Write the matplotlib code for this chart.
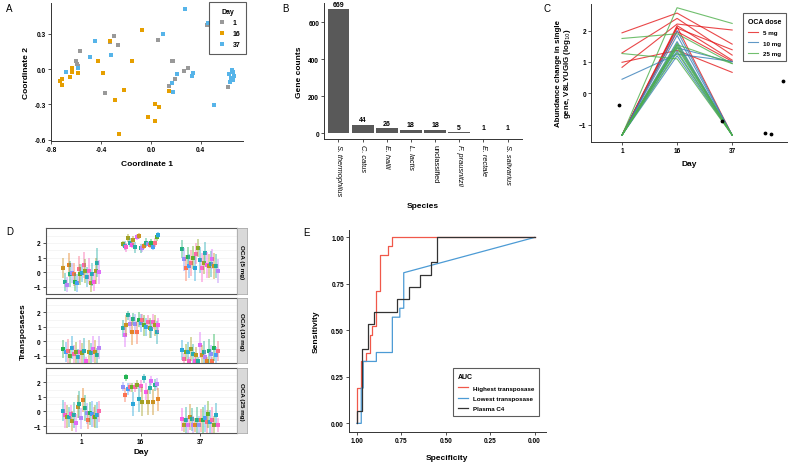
import matplotlib
matplotlib.use("Agg")
import matplotlib.pyplot as plt
from matplotlib.ticker import FormatStrFormatter
import numpy as np
import seaborn as sns

plt.rcParams['font.family'] = ['Liberation Sans', 'DejaVu Sans']
plt.rcParams['font.size'] = 5

# ---- panel A: MDS coordinates by day
a_day1_x = [-0.293, -0.331, -0.267, -0.565, -0.603, -0.597, -0.589, -0.365, 0.053, 0.165,
            0.176, 0.269, 0.296, 0.189, 0.147, 0.448, 0.619]
a_day1_y = [0.285, 0.228, 0.206, 0.155, 0.065, 0.042, 0.025, -0.200, 0.251, 0.073,
            0.070, -0.017, 0.006, -0.085, -0.144, 0.375, -0.152]
a_day16_x = [-0.069, -0.325, -0.427, -0.149, -0.381, -0.637, -0.632, -0.653, -0.584, -0.717,
             -0.731, -0.712, -0.216, -0.285, -0.253, 0.029, 0.061, -0.027, 0.029, 0.141]
a_day16_y = [0.332, 0.242, 0.070, 0.073, -0.031, 0.011, -0.028, -0.070, -0.034, -0.087,
             -0.099, -0.132, -0.175, -0.262, -0.549, -0.293, -0.321, -0.406, -0.442, -0.189]
a_day37_x = [0.277, 0.459, 0.096, -0.451, -0.320, -0.491, -0.587, -0.685, 0.213, 0.336,
             0.331, 0.171, 0.173, 0.504, 0.653, 0.656, 0.627, 0.664, 0.645, 0.637, 0.656]
a_day37_y = [0.510, 0.389, 0.301, 0.242, 0.124, 0.101, 0.011, -0.028, -0.039, -0.031,
             -0.059, -0.115, -0.197, -0.301, -0.005, -0.025, -0.042, -0.059, -0.073, -0.110, -0.090]

# ---- panel B: gene counts per species
species = ["S. thermophilus", "C. catus", "E. hallii", "L. lactis", "unclassified",
           "F. prausnitzii", "E. rectale", "S. salivarius"]
gene_counts = [669, 44, 26, 18, 18, 5, 1, 1]

# ---- panel C: per-subject abundance change (day 1, 16, 37)
days = ["1", "16", "37"]
c_5mg = [[1.93, 2.56, 1.57], [1.29, 2.39, 1.22], [0.99, 1.37, 0.67], [0.83, 2.21, 2.02],
         [-1.33, 2.16, 1.06], [-1.33, 2.08, 1.39], [-1.33, 1.97, 1.02], [-1.33, 2.12, -1.33]]
c_10mg = [[0.45, 1.25, 1.02], [-1.33, 1.85, -1.33], [-1.33, 1.55, -1.33], [-1.33, 1.35, -1.33],
          [-1.33, 1.20, -1.33], [-1.33, 1.45, 1.00], [-1.33, 2.00, -1.33], [-1.33, 1.65, -1.33]]
c_25mg = [[-1.33, 2.73, 2.23], [1.75, 1.90, 0.95], [1.27, 1.10, -1.33], [-1.33, 1.60, -1.33],
          [-1.33, 1.50, -1.33], [-1.33, 1.45, -1.33], [-1.33, 1.55, 0.95], [-1.33, 1.30, -1.33]]
c_out_x = [0.95, 2.82, 3.60, 3.70, 3.92]
c_out_y = [-0.36, -0.88, -1.25, -1.31, 0.40]

# ---- panel D: transposase estimates with intervals, per dose and day
f5_d1 = [0.30, -0.67, -0.85, 0.48, -0.12, -0.05, -0.16, -0.67, -0.74, 0.18, -0.16, -0.05,
         0.48, 0.07, -0.35, 0.07, -0.74, -0.16, -0.67, 0.07, 0.65, 0.00]
f5_d1_err = [0.7, 0.6, 0.5, 0.8, 0.9, 0.7, 0.8, 0.6, 0.6, 0.9, 0.7, 0.6, 0.9, 0.8, 0.7, 0.9,
             0.6, 0.8, 0.6, 0.9, 1.0, 0.8]
f5_d16 = [1.92, 1.80, 1.69, 2.33, 2.03, 1.87, 2.19, 1.69, 2.38, 2.49, 1.62, 1.62, 1.80, 2.03,
          1.96, 1.87, 2.00, 1.69, 2.03, 2.38, 2.54]
f5_d16_err = [0.2, 0.3, 0.3, 0.25, 0.3, 0.2, 0.3, 0.35, 0.2, 0.2, 0.3, 0.25, 0.2, 0.3, 0.2,
              0.25, 0.3, 0.2, 0.3, 0.25, 0.2]
f5_d37 = [1.57, 0.88, 0.30, 1.04, 0.42, 0.65, 0.99, 0.30, 1.27, 1.64, 0.81, 0.30, 0.65, 1.34,
          0.48, 0.42, 0.58, 0.88, 0.42, 0.42, 0.07]
f5_d37_err = [0.6, 0.8, 0.9, 0.7, 0.8, 0.9, 0.8, 0.9, 0.7, 0.6, 0.9, 1.0, 0.8, 0.7, 0.9, 0.8,
              0.9, 0.7, 0.9, 0.8, 0.8]

f10_d1 = [-0.53, -0.72, -0.65, -1.00, -0.42, -0.88, -0.76, -1.04, -0.72, -0.81, -0.65, -1.34,
          -0.72, -0.81, -0.53, -0.72, -0.95, -0.42]
f10_d1_err = [0.6, 0.7, 0.8, 0.5, 0.8, 0.6, 0.7, 0.5, 0.8, 0.7, 0.9, 0.3, 0.8, 0.7, 0.9, 0.8,
              0.5, 0.8]
f10_d16 = [0.90, 0.44, 1.09, 1.78, 1.20, 0.62, 1.55, 1.20, 0.62, 1.50, 1.27, 1.50, 1.09, 0.97,
           1.32, 0.90, 0.85, 1.36, 1.09, 0.62, 1.09]
f10_d16_err = [0.6, 0.8, 0.7, 0.3, 0.6, 0.9, 0.4, 0.7, 0.8, 0.5, 0.6, 0.4, 0.7, 0.6, 0.5, 0.7,
               0.6, 0.5, 0.7, 0.8, 0.5]
f10_d37 = [-0.60, -1.18, -0.76, -0.76, -1.34, -0.53, -0.88, -1.34, -0.95, -1.34, -0.25, -0.95,
           -0.76, -1.10, -1.34, -0.65, -0.88, -1.34, -0.42, -0.95, -0.65]
f10_d37_err = [0.7, 0.4, 0.6, 0.7, 0.3, 0.8, 0.7, 0.3, 0.6, 0.3, 0.9, 0.7, 0.8, 0.5, 0.3, 0.8,
               0.6, 0.3, 0.9, 0.6, 0.7]

f25_d1 = [0.05, -0.25, -0.37, -0.37, -0.18, -0.64, -0.25, -0.78, 0.32, 0.48, -0.48, 0.78,
          0.21, -0.14, -0.60, -0.14, -0.18, -0.37, -0.37, -0.25, 0.00]
f25_d1_err = [0.7, 0.9, 0.8, 0.7, 0.6, 0.7, 0.9, 0.6, 0.8, 0.9, 0.7, 0.8, 0.9, 0.7, 0.6, 0.8,
              0.9, 0.7, 0.8, 0.9, 0.7]
f25_d16 = [1.70, 1.13, 2.34, 1.52, 1.66, 1.66, 0.50, 1.66, 1.82, 0.83, 1.75, 0.67, 2.28, 1.36,
           0.67, 1.59, 2.11, 0.67, 1.82, 1.89, 0.83]
f25_d16_err = [0.3, 0.5, 0.25, 0.4, 0.3, 0.3, 0.8, 0.3, 0.3, 0.9, 0.4, 1.0, 0.3, 0.6, 0.9, 0.4,
               0.3, 0.9, 0.4, 0.4, 0.8]
f25_d37 = [-0.55, -0.94, -0.60, -0.94, -0.37, -0.55, -0.94, -0.94, -0.60, -0.94, -0.60, -0.60,
           -0.48, -0.71, -0.21, -0.71, -0.60, -0.94, -0.25, -0.94]
f25_d37_err = [0.8, 0.5, 0.9, 0.6, 0.9, 0.8, 0.6, 0.5, 0.9, 0.6, 0.8, 0.9, 0.9, 0.8, 0.9, 0.8,
               0.9, 0.6, 0.8, 0.5]

# ---- panel E: ROC curves (specificity, sensitivity)
roc_high_spec = [1, 1, 0.974, 0.974, 0.949, 0.949, 0.927, 0.927, 0.914, 0.914, 0.893, 0.893,
                 0.867, 0.867, 0.822, 0.822, 0.801, 0.801, 0]
roc_high_sens = [0, 0.19, 0.19, 0.333, 0.333, 0.381, 0.381, 0.476, 0.476, 0.524, 0.524, 0.714,
                 0.714, 0.905, 0.905, 0.952, 0.952, 1, 1]
roc_low_spec = [1, 0.975, 0.975, 0.964, 0.964, 0.89, 0.89, 0.80, 0.80, 0.758, 0.758, 0.736,
                0.736, 0]
roc_low_sens = [0, 0, 0.19, 0.19, 0.333, 0.333, 0.381, 0.381, 0.571, 0.571, 0.619, 0.619,
                0.81, 1]
roc_c4_spec = [1, 1, 0.968, 0.968, 0.936, 0.936, 0.903, 0.903, 0.774, 0.774, 0.708, 0.708,
               0.646, 0.646, 0.58, 0.58, 0.547, 0.547, 0]
roc_c4_sens = [0, 0.067, 0.067, 0.4, 0.4, 0.533, 0.533, 0.6, 0.6, 0.667, 0.667, 0.733, 0.733,
               0.8, 0.8, 0.867, 0.867, 1, 1]

AX = '#333333'
TITLE = 6
TICK = dict(labelsize=4.7, length=2, width=0.6, color=AX, pad=1.5)


def classic(ax):
    for s in ['top', 'right']:
        ax.spines[s].set_visible(False)
    for s in ['left', 'bottom']:
        ax.spines[s].set_color(AX)
        ax.spines[s].set_linewidth(0.7)
    ax.tick_params(**TICK)
    for lab in ax.get_xticklabels() + ax.get_yticklabels():
        lab.set_fontweight('bold')


def legend_box(leg):
    leg.get_frame().set_edgecolor(AX)
    leg.get_frame().set_linewidth(0.8)
    leg.get_frame().set_boxstyle('square', pad=0)
    leg.get_title().set_fontweight('bold')
    for t in leg.get_texts():
        t.set_fontweight('bold')


fig = plt.figure(figsize=(8, 4.64), dpi=100)

# ---------------- A
axA = fig.add_axes([0.064, 0.694, 0.240, 0.297])
kw = dict(marker='s', s=6, linewidths=0)
axA.scatter(a_day1_x, a_day1_y, color='#999999', label='1', **kw)
axA.scatter(a_day16_x, a_day16_y, color='#E69F00', label='16', **kw)
axA.scatter(a_day37_x, a_day37_y, color='#56B4E9', label='37', **kw)
axA.set_xlim(-0.80, 0.74)
axA.set_ylim(-0.61, 0.56)
axA.set_xticks([-0.8, -0.4, 0.0, 0.4])
axA.set_yticks([-0.6, -0.3, 0.0, 0.3])
axA.xaxis.set_major_formatter(FormatStrFormatter('%.1f'))
axA.yaxis.set_major_formatter(FormatStrFormatter('%.1f'))
classic(axA)
axA.set_xlabel('Coordinate 1', fontsize=TITLE, fontweight='bold', labelpad=5)
axA.set_ylabel('Coordinate 2', fontsize=TITLE, fontweight='bold', labelpad=4)
leg = axA.legend(title='Day', loc='upper right', bbox_to_anchor=(0.3075, 0.9935),
                 bbox_transform=fig.transFigure, fontsize=5, title_fontsize=5,
                 markerscale=1.0, handletextpad=0.6, borderpad=0.8, labelspacing=0.6,
                 fancybox=False, borderaxespad=0)
legend_box(leg)

# ---------------- B
axB = fig.add_axes([0.405, 0.698, 0.2475, 0.293])
xb = np.arange(len(species))
axB.bar(xb, gene_counts, width=0.9, color='#595959')
for xi, v in zip(xb, gene_counts):
    axB.text(xi, v + 8, str(v), ha='center', va='bottom', fontsize=5, fontweight='bold')
axB.set_xlim(-0.6, len(species) - 0.4)
axB.set_ylim(-33, 702)
axB.set_yticks([0, 200, 400, 600])
axB.set_xticks(xb)
axB.set_xticklabels(species, rotation=-90)
classic(axB)
for lab, name in zip(axB.get_xticklabels(), species):
    lab.set_fontweight('normal')
    lab.set_fontsize(5.3)
    lab.set_fontstyle('normal' if name == 'unclassified' else 'italic')
axB.set_xlabel('Species', fontsize=TITLE, fontweight='bold', labelpad=5)
axB.set_ylabel('Gene counts', fontsize=TITLE, fontweight='bold', labelpad=4)

# ---------------- C
axC = fig.add_axes([0.739, 0.6925, 0.245, 0.2968])
xc = np.arange(1, len(days) + 1)
for group, col, lab in [(c_5mg, '#E41A1C', '5 mg'), (c_10mg, '#377EB8', '10 mg'),
                        (c_25mg, '#4DAF4A', '25 mg')]:
    for i, row in enumerate(group):
        axC.plot(xc, row, color=col, lw=0.8, alpha=0.8, label=lab if i == 0 else None)
axC.scatter(c_out_x, c_out_y, s=3, color='black', zorder=5)
axC.set_xlim(0.44, 4.0)
axC.set_ylim(-1.54, 2.85)
axC.set_xticks(xc)
axC.set_xticklabels(days)
axC.set_yticks([-1, 0, 1, 2])
classic(axC)
axC.set_xlabel('Day', fontsize=TITLE, fontweight='bold', labelpad=5)
axC.set_ylabel('Abundance change in single\ngene, V8LYUGIG (log$_{10}$)', fontsize=5.7,
               fontweight='bold', labelpad=4, linespacing=1.0)
leg = axC.legend(title='OCA dose', loc='upper right', bbox_to_anchor=(0.9825, 0.97),
                 bbox_transform=fig.transFigure, fontsize=4.5, title_fontsize=5,
                 handlelength=1.6, borderpad=0.8, labelspacing=0.8, fancybox=False,
                 borderaxespad=0)
legend_box(leg)

# ---------------- D
facets = [("OCA (5 mg)", [f5_d1, f5_d16, f5_d37], [f5_d1_err, f5_d16_err, f5_d37_err]),
          ("OCA (10 mg)", [f10_d1, f10_d16, f10_d37], [f10_d1_err, f10_d16_err, f10_d37_err]),
          ("OCA (25 mg)", [f25_d1, f25_d16, f25_d37], [f25_d1_err, f25_d16_err, f25_d37_err])]
d_bottoms = [0.3642, 0.2149, 0.064]
pal = sns.husl_palette(22, l=0.65, s=0.95)
for k, ((title, vals, errs), bot) in enumerate(zip(facets, d_bottoms)):
    ax = fig.add_axes([0.057, bot, 0.239, 0.1415])
    for dpos, (yv, ev) in enumerate(zip(vals, errs), start=1):
        n = len(yv)
        xs = dpos + np.linspace(-0.3, 0.3, n)
        for i, (x, y, e) in enumerate(zip(xs, yv, ev)):
            col = pal[(i * 7 + dpos * 3 + k * 5) % len(pal)]
            ax.plot([x, x], [y - e, y + e], color=col, lw=1.3, alpha=0.45,
                    solid_capstyle='butt')
            ax.plot(x, y, marker='s', ms=2.6, color=col, mew=0)
    ax.set_xlim(0.4, 3.62)
    ax.set_ylim(-1.5, 3.0)
    ax.set_yticks([-1, 0, 1, 2])
    ax.set_yticks([-0.5, 0.5, 1.5, 2.5], minor=True)
    ax.grid(True, which='both', axis='y', color='#F2F2F2', lw=0.5)
    ax.set_axisbelow(True)
    ax.set_xticks([1, 2, 3])
    for s in ax.spines.values():
        s.set_color('#555555')
        s.set_linewidth(0.8)
    ax.tick_params(**TICK)
    ax.tick_params(which='minor', length=0)
    for lab in ax.get_yticklabels():
        lab.set_fontweight('bold')
    if k < 2:
        ax.set_xticklabels([])
        ax.tick_params(axis='x', length=0)
    else:
        ax.set_xticklabels(days, fontweight='bold')
        ax.set_xlabel('Day', fontsize=TITLE, fontweight='bold', labelpad=2)
    sx = fig.add_axes([0.2959, bot, 0.0125, 0.1415])
    sx.set_facecolor('#D9D9D9')
    sx.set_xticks([])
    sx.set_yticks([])
    for s in sx.spines.values():
        s.set_color('#AAAAAA')
        s.set_linewidth(0.6)
    sx.text(0.5, 0.5, title, rotation=-90, ha='center', va='center', fontsize=4.5,
            fontweight='bold', transform=sx.transAxes)
fig.text(0.029, 0.2845, 'Transposases', rotation=90, ha='center', va='center', fontsize=TITLE,
         fontweight='bold')

# ---------------- E
axE = fig.add_axes([0.436, 0.0662, 0.246, 0.436])
axE.plot(roc_high_spec, roc_high_sens, color='#F0584A', lw=0.9, label='Highest transposase')
axE.plot(roc_low_spec, roc_low_sens, color='#4C9BD5', lw=0.9, label='Lowest transposase')
axE.plot(roc_c4_spec, roc_c4_sens, color='#333333', lw=0.9, label='Plasma C4')
axE.set_xlim(1.045, -0.062)
axE.set_ylim(-0.048, 1.04)
axE.set_xticks([1.0, 0.75, 0.5, 0.25, 0.0])
axE.set_yticks([0.0, 0.25, 0.5, 0.75, 1.0])
axE.xaxis.set_major_formatter(FormatStrFormatter('%.2f'))
axE.yaxis.set_major_formatter(FormatStrFormatter('%.2f'))
classic(axE)
axE.set_xlabel('Specificity', fontsize=TITLE, fontweight='bold', labelpad=7)
axE.set_ylabel('Sensitivity', fontsize=TITLE, fontweight='bold', labelpad=8)
leg = axE.legend(title='AUC', loc='lower right', bbox_to_anchor=(0.674, 0.1006),
                 bbox_transform=fig.transFigure, fontsize=4.5, title_fontsize=5,
                 handlelength=1.6, borderpad=0.8, labelspacing=0.8, fancybox=False,
                 borderaxespad=0, alignment='left')
legend_box(leg)

# panel letters
for letter, x, y in [('A', 0.0075, 0.981), ('B', 0.3525, 0.981), ('C', 0.679, 0.981),
                     ('D', 0.0075, 0.5), ('E', 0.379, 0.498)]:
    fig.text(x, y, letter, fontsize=7, ha='left', va='center')

fig.savefig('out.png', dpi=100)
